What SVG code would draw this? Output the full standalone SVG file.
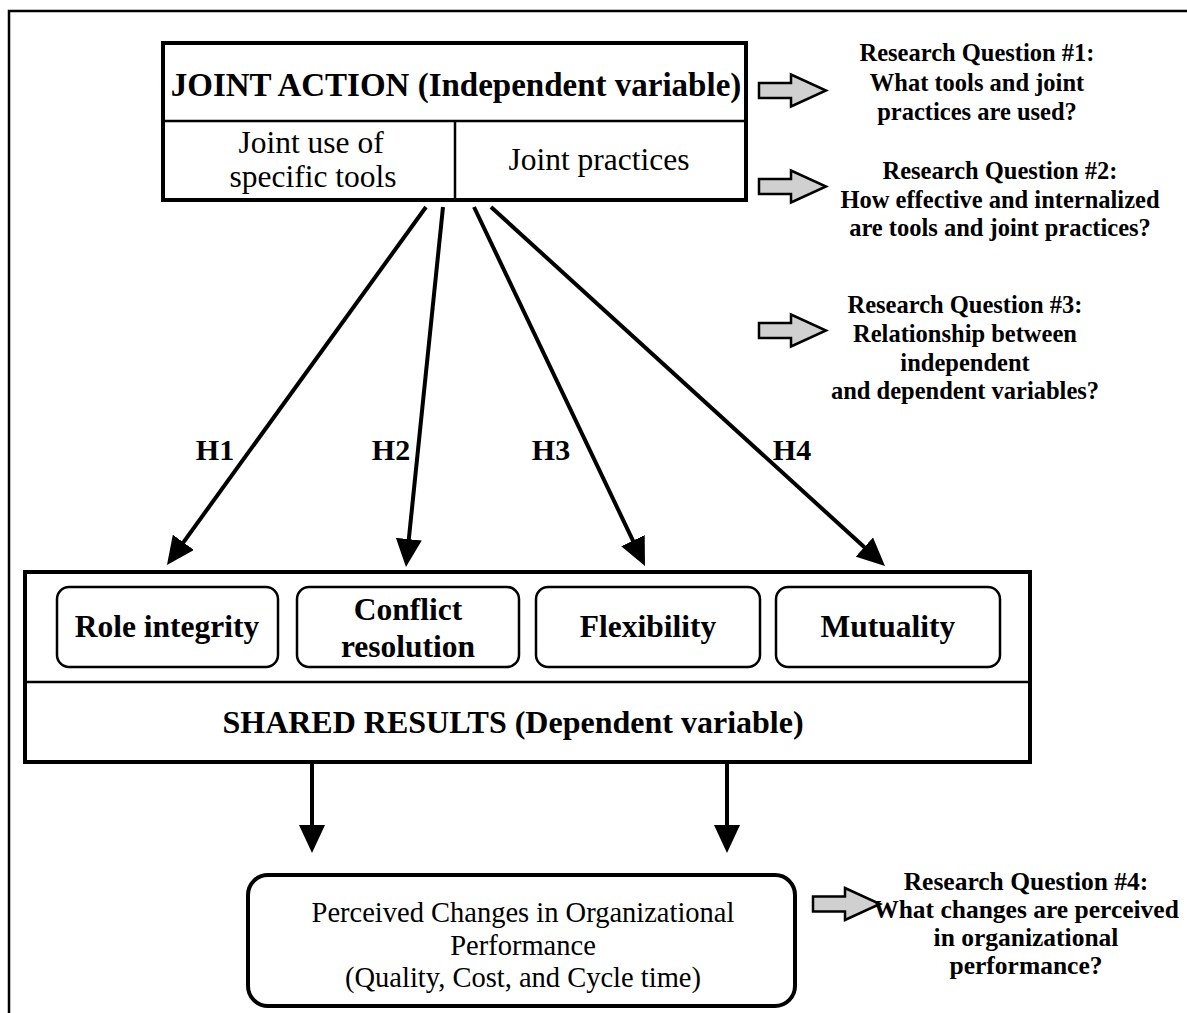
<svg xmlns="http://www.w3.org/2000/svg" width="1187" height="1013" viewBox="0 0 1187 1013">
  <style>
    .frame { fill: none; stroke: #000; stroke-width: 2.5; }
    .box { fill: #fff; stroke: #000; stroke-width: 4; }
    .sub { fill: #fff; stroke: #000; stroke-width: 2.5; }
    .div { stroke: #000; stroke-width: 2.5; }
    .conn { fill: none; stroke: #000; stroke-width: 4; marker-end: url(#head); }
    .rq-arrow { fill: #d0d0d0; stroke: #000; stroke-width: 2.5; stroke-linejoin: miter; }
    text { font-family: "Liberation Serif", "Times New Roman", serif; fill: #000; text-anchor: middle; }
    .title { font-size: 33px; font-weight: bold; }
    .label { font-size: 31.5px; }
    .item { font-size: 31.5px; font-weight: bold; }
    .result { font-size: 32px; font-weight: bold; }
    .hyp { font-size: 30px; font-weight: bold; }
    .rq { font-size: 24.5px; font-weight: bold; }
    .rq4 { font-size: 25.5px; font-weight: bold; }
    .perf { font-size: 28.5px; }
  </style>
  <defs>
    <marker id="head" markerUnits="userSpaceOnUse" markerWidth="28" markerHeight="26" refX="8" refY="13" orient="auto">
      <path d="M0,0 L28,13 L0,26 Z" fill="#000"/>
    </marker>
    <path id="blockArrow" class="rq-arrow" d="M0,-7.5 H32 V-16 L67,0 L32,16 V7.5 H0 Z"/>
  </defs>

  <!-- page frame: top and left rules only -->
  <path class="frame" d="M9,1013 V11 H1187"/>

  <!-- independent variable -->
  <g id="joint-action">
    <rect class="box" x="163" y="43" width="583" height="157"/>
    <line class="div" x1="163" y1="121" x2="746" y2="121"/>
    <line class="div" x1="455" y1="121" x2="455" y2="200"/>
    <text class="title" x="456" y="96">JOINT ACTION (Independent variable)</text>
    <text class="label" x="311" y="153">Joint use of</text>
    <text class="label" x="313" y="187">specific tools</text>
    <text class="label" x="599" y="170">Joint practices</text>
  </g>

  <!-- dependent variable -->
  <g id="shared-results">
    <rect class="box" x="25" y="572" width="1005" height="190"/>
    <line class="div" x1="25" y1="682" x2="1030" y2="682"/>
    <text class="result" x="513" y="733">SHARED RESULTS (Dependent variable)</text>
  </g>
  <g id="role-integrity">
    <rect class="sub" x="57" y="587" width="221" height="80" rx="12"/>
    <text class="item" x="167" y="637">Role integrity</text>
  </g>
  <g id="conflict-resolution">
    <rect class="sub" x="297" y="587" width="222" height="80" rx="12"/>
    <text class="item" x="408" y="620">Conflict</text>
    <text class="item" x="408" y="657">resolution</text>
  </g>
  <g id="flexibility">
    <rect class="sub" x="536" y="587" width="224" height="80" rx="12"/>
    <text class="item" x="648" y="637">Flexibility</text>
  </g>
  <g id="mutuality">
    <rect class="sub" x="776" y="587" width="224" height="80" rx="12"/>
    <text class="item" x="888" y="637">Mutuality</text>
  </g>

  <!-- outcome -->
  <g id="performance">
    <rect class="box" x="248" y="875" width="547" height="131" rx="20"/>
    <text class="perf" x="523" y="922">Perceived Changes in Organizational</text>
    <text class="perf" x="523" y="955">Performance</text>
    <text class="perf" x="523" y="987">(Quality, Cost, and Cycle time)</text>
  </g>

  <!-- research questions -->
  <g id="rq1">
    <use href="#blockArrow" x="759" y="90.5"/>
    <text class="rq" x="977" y="61">Research Question #1:</text>
    <text class="rq" x="977" y="91">What tools and joint</text>
    <text class="rq" x="977" y="120">practices are used?</text>
  </g>
  <g id="rq2">
    <use href="#blockArrow" x="759" y="186.5"/>
    <text class="rq" x="1000" y="179">Research Question #2:</text>
    <text class="rq" x="1000" y="208">How effective and internalized</text>
    <text class="rq" x="1000" y="236">are tools and joint practices?</text>
  </g>
  <g id="rq3">
    <use href="#blockArrow" x="759" y="330.5"/>
    <text class="rq" x="965" y="313">Research Question #3:</text>
    <text class="rq" x="965" y="342">Relationship between</text>
    <text class="rq" x="965" y="371">independent</text>
    <text class="rq" x="965" y="399">and dependent variables?</text>
  </g>
  <g id="rq4">
    <use href="#blockArrow" x="813" y="904"/>
    <text class="rq4" x="1026" y="890">Research Question #4:</text>
    <text class="rq4" x="1026" y="918">What changes are perceived</text>
    <text class="rq4" x="1026" y="946">in organizational</text>
    <text class="rq4" x="1026" y="974">performance?</text>
  </g>

  <!-- hypotheses and result links -->
  <g id="connectors">
    <line class="conn" x1="426" y1="207" x2="178.7" y2="548.8"/>
    <line class="conn" x1="443" y1="207" x2="408.0" y2="547.1"/>
    <line class="conn" x1="474" y1="207" x2="636.4" y2="547.9"/>
    <line class="conn" x1="491" y1="207" x2="870.2" y2="552.5"/>
    <line class="conn" x1="312" y1="764" x2="312" y2="833"/>
    <line class="conn" x1="727" y1="764" x2="727" y2="833"/>
    <text class="hyp" x="215" y="460">H1</text>
    <text class="hyp" x="391" y="460">H2</text>
    <text class="hyp" x="551" y="460">H3</text>
    <text class="hyp" x="792" y="460">H4</text>
  </g>
</svg>
